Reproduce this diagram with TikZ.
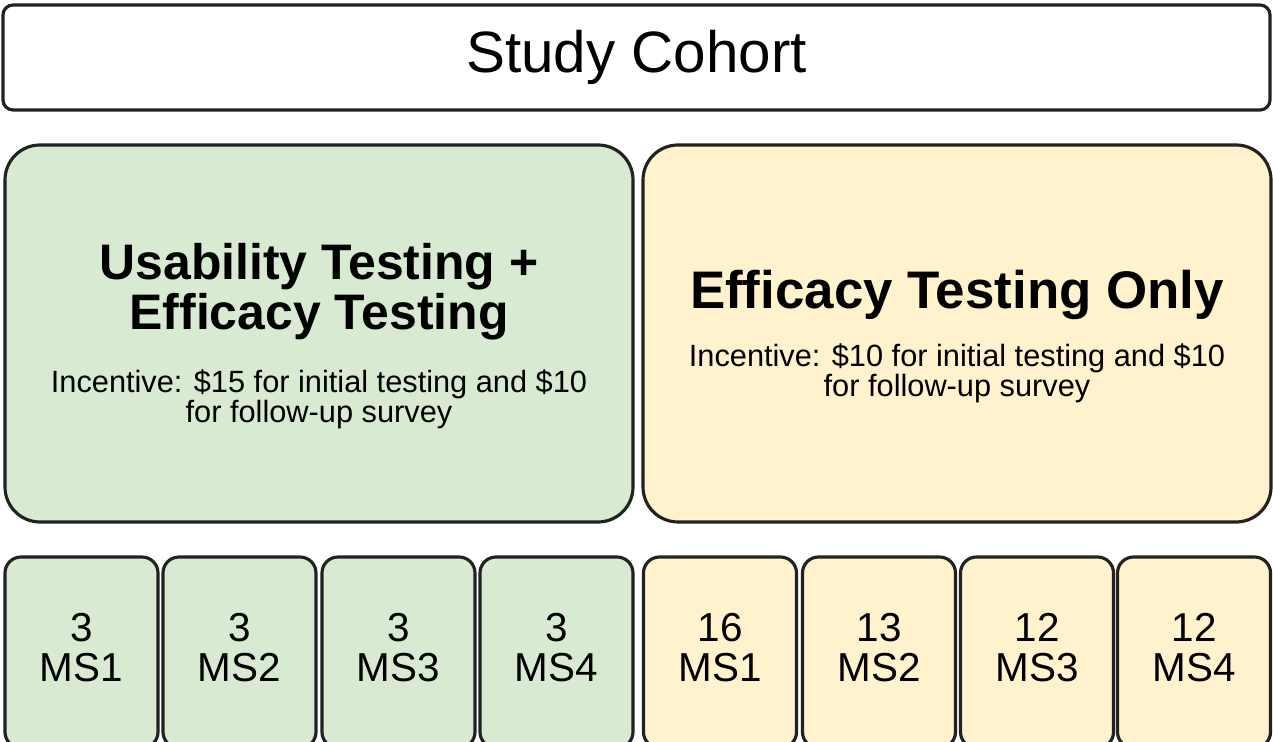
\documentclass[tikz,border=0pt]{standalone}
\usepackage{fontspec}
\setmainfont{Liberation Sans}
\usetikzlibrary{shapes}

\definecolor{usabgreen}{HTML}{D9EAD3}
\definecolor{effyellow}{HTML}{FFF2CC}
\definecolor{edgegray}{HTML}{222222}

% keep the two-line notes at their own baseline distance
\setlength{\lineskiplimit}{-6pt}

\begin{document}
\begin{tikzpicture}[
	box/.style={rectangle,draw=edgegray,line width=0.9pt},
	armbox/.style={box,rounded corners=0.35cm,minimum width=6.28cm,minimum height=3.77cm},
	msbox/.style={box,rounded corners=0.16cm,minimum width=1.53cm,minimum height=1.91cm},
	armtitle/.style={align=center,font=\fontsize{14.2}{14.2}\selectfont\bfseries},
	armnote/.style={align=center,font=\fontsize{8.75}{8.5}\selectfont},
	mscount/.style={align=center,font=\fontsize{11.5}{11.4}\selectfont}
	]
	
		\clip (0,0) rectangle (12.73,7.42);
		
		\node[box,rounded corners=0.1cm,minimum width=12.67cm,minimum height=1.05cm,
			font=\fontsize{16.6}{18}\selectfont] (cohort) at (6.365,6.845) {Study Cohort};
		
		% the two study arms
		\node[armbox,fill=usabgreen] (usab) at (3.19,4.085) {};
		\node[armtitle] (usabtitle) at (3.19,4.50) {Usability Testing +\\Efficacy Testing};
		\node[armnote] (usabnote) at (3.19,3.43)
			{Incentive: \$15 for initial testing and \$10\\for follow-up survey};
		
		\node[armbox,fill=effyellow] (eff) at (9.57,4.085) {};
		\node[armtitle,font=\fontsize{15.05}{15}\selectfont\bfseries] (efftitle) at (9.57,4.47) {Efficacy Testing Only};
		\node[armnote] (effnote) at (9.57,3.69)
			{Incentive: \$10 for initial testing and \$10\\for follow-up survey};
		
		% participants per site
		\foreach \x/\n/\ms [count=\i] in {0.815/3/MS1,2.395/3/MS2,3.985/3/MS3,5.565/3/MS4} {
			\node[msbox,fill=usabgreen] (u\i) at (\x,0.895) {};
			\node[mscount] (u\i-count) at (\x,0.94) {\n\\\ms};
		}
		\foreach \x/\n/\ms [count=\i] in {7.20/16/MS1,8.79/13/MS2,10.37/12/MS3,11.94/12/MS4} {
			\node[msbox,fill=effyellow] (e\i) at (\x,0.895) {};
			\node[mscount] (e\i-count) at (\x,0.94) {\n\\\ms};
		}
		
	\end{tikzpicture}
\end{document}
